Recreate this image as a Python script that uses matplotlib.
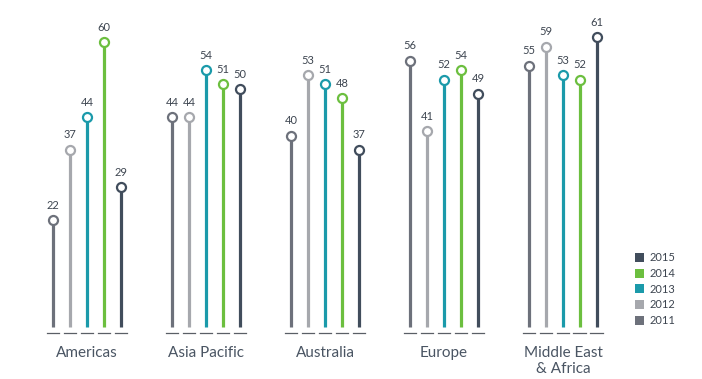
import matplotlib
matplotlib.use('Agg')
import matplotlib.pyplot as plt
import matplotlib.patches as mpatches

plt.rcParams['font.family'] = ['Lato', 'DejaVu Sans']

regions = ['Americas', 'Asia Pacific', 'Australia', 'Europe', 'Middle East\n& Africa']
years = ['2011', '2012', '2013', '2014', '2015']
v2011 = [22, 44, 40, 56, 55]
v2012 = [37, 44, 53, 41, 59]
v2013 = [44, 54, 51, 52, 53]
v2014 = [60, 51, 48, 54, 52]
v2015 = [29, 50, 37, 49, 61]
series = [v2011, v2012, v2013, v2014, v2015]
colors = ['#6d717b', '#a6a8ad', '#1b9aaa', '#6cbf3f', '#414d5c']

group_step = 7  # slots per group (5 stems + gap)

fig = plt.figure(figsize=(7.02, 3.79), dpi=100)
ax = fig.add_axes([0, 0, 1, 1])
ax.set_xlim(-3.12, 38.18)
ax.set_ylim(-11.97, 69.0)
ax.axis('off')

for j, (vals, col) in enumerate(zip(series, colors)):
    for i, v in enumerate(vals):
        x = i * group_step + j
        ax.plot([x, x], [-0.8, v], color=col, lw=2.3, solid_capstyle='butt', zorder=2)
        ax.plot(x, v, 'o', ms=6.5, mfc='white', mec=col, mew=1.6, zorder=3)
        ax.text(x, v + 2.0, str(v), ha='center', va='bottom', fontsize=8,
                color='#3d4550')
        # short dash under each stem
        ax.plot([x - 0.38, x + 0.38], [-2.1, -2.1], color='#5a5f66', lw=0.9)

for i, name in enumerate(regions):
    ax.text(i * group_step + 2, -4.9, name, ha='center', va='top', fontsize=11,
            color='#4a5563', linespacing=1.15)

handles = [mpatches.Patch(facecolor=c, label=y) for y, c in zip(years, colors)][::-1]
leg = ax.legend(handles=handles, loc='lower left', bbox_to_anchor=(0.898, 0.128),
                frameon=False, fontsize=8, handlelength=0.85, handleheight=0.85,
                handletextpad=0.5, labelspacing=0.42, borderaxespad=0)
for t in leg.get_texts():
    t.set_color('#3d4550')

fig.savefig('out.png', dpi=100)
